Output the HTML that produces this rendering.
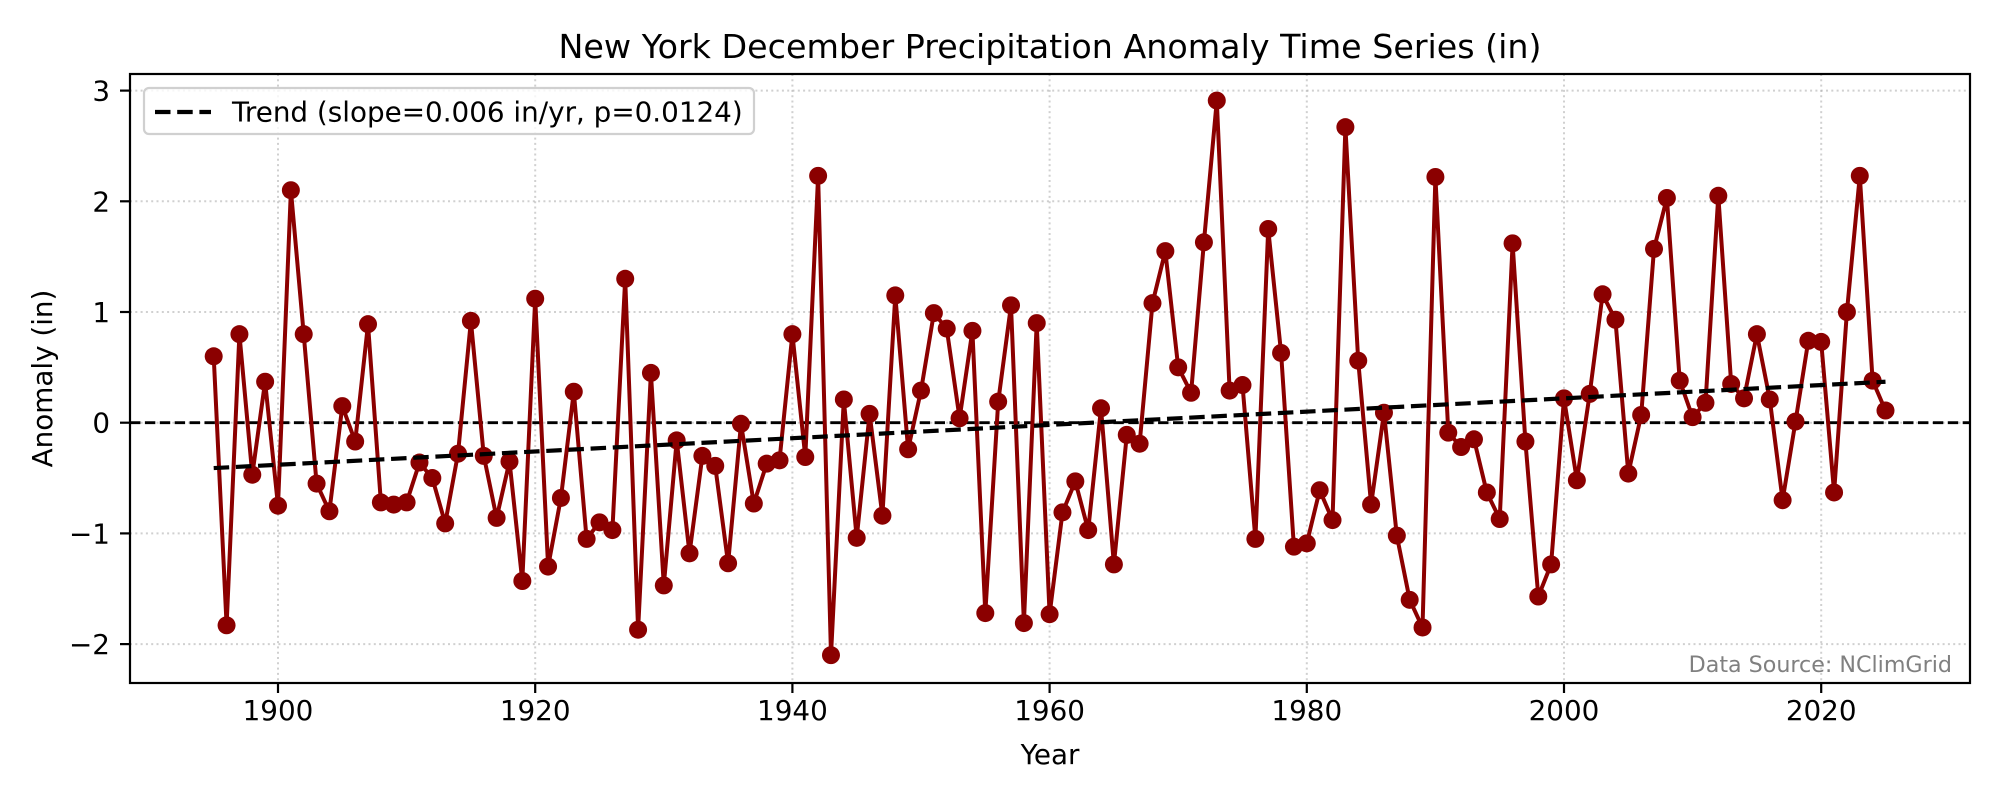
<!DOCTYPE html>
<html><head><meta charset="utf-8"><style>
html,body{margin:0;padding:0;background:#fff;}
svg{display:block;font-family:"DejaVu Sans","Liberation Sans",sans-serif;}
</style></head><body>
<svg id="s" width="2000" height="800" viewBox="0 0 2000 800" xmlns="http://www.w3.org/2000/svg">
<rect width="2000" height="800" fill="#fff"/>
<g id="grid" stroke="#b0b0b0" stroke-opacity="0.6" stroke-width="2" stroke-dasharray="2,3.3"></g>
<line x1="130" x2="1970" y1="422.7" y2="422.7" stroke="#000" stroke-width="2.8" stroke-dasharray="10.4,4.5"/>
<g id="data"></g>
<line id="trend" stroke="#000" stroke-width="4.2" stroke-dasharray="15.5,6.7"/>
<rect x="130" y="74" width="1840" height="609" fill="none" stroke="#000" stroke-width="2.2"/>
<g id="ticks" stroke="#000" stroke-width="2.2"></g>
<g font-size="27.8" fill="#000">
<text x="278" y="720" text-anchor="middle">1900</text>
<text x="535.2" y="720" text-anchor="middle">1920</text>
<text x="792.4" y="720" text-anchor="middle">1940</text>
<text x="1049.6" y="720" text-anchor="middle">1960</text>
<text x="1306.8" y="720" text-anchor="middle">1980</text>
<text x="1564" y="720" text-anchor="middle">2000</text>
<text x="1821.2" y="720" text-anchor="middle">2020</text>
<text x="110" y="100.6" text-anchor="end">3</text>
<text x="110" y="211.3" text-anchor="end">2</text>
<text x="110" y="322" text-anchor="end">1</text>
<text x="110" y="432.7" text-anchor="end">0</text>
<text x="110" y="543.4" text-anchor="end">−1</text>
<text x="110" y="654.1" text-anchor="end">−2</text>
<text x="1050" y="764" text-anchor="middle">Year</text>
<text transform="translate(52,378.5) rotate(-90)" text-anchor="middle">Anomaly (in)</text>
</g>
<text x="1050" y="58" font-size="33.3" text-anchor="middle">New York December Precipitation Anomaly Time Series (in)</text>
<rect x="144" y="88" width="610" height="46" rx="5" fill="#fff" fill-opacity="0.8" stroke="#d0d0d0" stroke-width="2.2"/>
<line x1="155" x2="211" y1="112" y2="112" stroke="#000" stroke-width="4.2" stroke-dasharray="15.5,6.7"/>
<text x="232" y="121.5" font-size="27.8">Trend (slope=0.006 in/yr, p=0.0124)</text>
<text x="1952" y="672" font-size="22.2" fill="#808080" text-anchor="end">Data Source: NClimGrid</text>
</svg>
<script>
var v=[0.6,-1.83,0.8,-0.47,0.37,-0.75,2.1,0.8,-0.55,-0.8,0.15,-0.17,0.89,-0.72,-0.74,-0.72,-0.36,-0.5,-0.91,-0.28,0.92,-0.3,-0.86,-0.35,-1.43,1.12,-1.3,-0.68,0.28,-1.05,-0.9,-0.97,1.3,-1.87,0.45,-1.47,-0.16,-1.18,-0.3,-0.39,-1.27,-0.01,-0.73,-0.37,-0.34,0.8,-0.31,2.23,-2.1,0.21,-1.04,0.08,-0.84,1.15,-0.24,0.29,0.99,0.85,0.04,0.83,-1.72,0.19,1.06,-1.81,0.9,-1.73,-0.81,-0.53,-0.97,0.13,-1.28,-0.11,-0.19,1.08,1.55,0.5,0.27,1.63,2.91,0.29,0.34,-1.05,1.75,0.63,-1.12,-1.09,-0.61,-0.88,2.67,0.56,-0.74,0.09,-1.02,-1.6,-1.85,2.22,-0.09,-0.22,-0.15,-0.63,-0.87,1.62,-0.17,-1.57,-1.28,0.22,-0.52,0.26,1.16,0.93,-0.46,0.07,1.57,2.03,0.38,0.05,0.18,2.05,0.35,0.22,0.8,0.21,-0.7,0.01,0.74,0.73,-0.63,1.0,2.23,0.38,0.11];
function X(y){return 278+(y-1900)*12.86;}
function Y(a){return 422.7-110.7*a;}
var NS="http://www.w3.org/2000/svg";
function el(t,a,p){var e=document.createElementNS(NS,t);for(var k in a)e.setAttribute(k,a[k]);p.appendChild(e);return e;}
var g=document.getElementById('grid'),tk=document.getElementById('ticks'),d=document.getElementById('data');
for(var yr=1900;yr<=2020;yr+=20){el('line',{x1:X(yr),x2:X(yr),y1:74,y2:683},g);el('line',{x1:X(yr),x2:X(yr),y1:683,y2:693},tk);}
for(var a=-2;a<=3;a++){el('line',{x1:130,x2:1970,y1:Y(a),y2:Y(a)},g);el('line',{x1:120,x2:130,y1:Y(a),y2:Y(a)},tk);}
var pts=v.map(function(a,i){return X(1895+i).toFixed(1)+','+Y(a).toFixed(1);}).join(' ');
el('polyline',{points:pts,fill:'none',stroke:'#8b0000','stroke-width':4,'stroke-linejoin':'round'},d);
v.forEach(function(a,i){el('circle',{cx:X(1895+i),cy:Y(a),r:9,fill:'#8b0000'},d);});
var t=document.getElementById('trend');
t.setAttribute('x1',X(1895));t.setAttribute('y1',Y(-0.41));t.setAttribute('x2',X(2025));t.setAttribute('y2',Y(0.37));
</script>
</body></html>
